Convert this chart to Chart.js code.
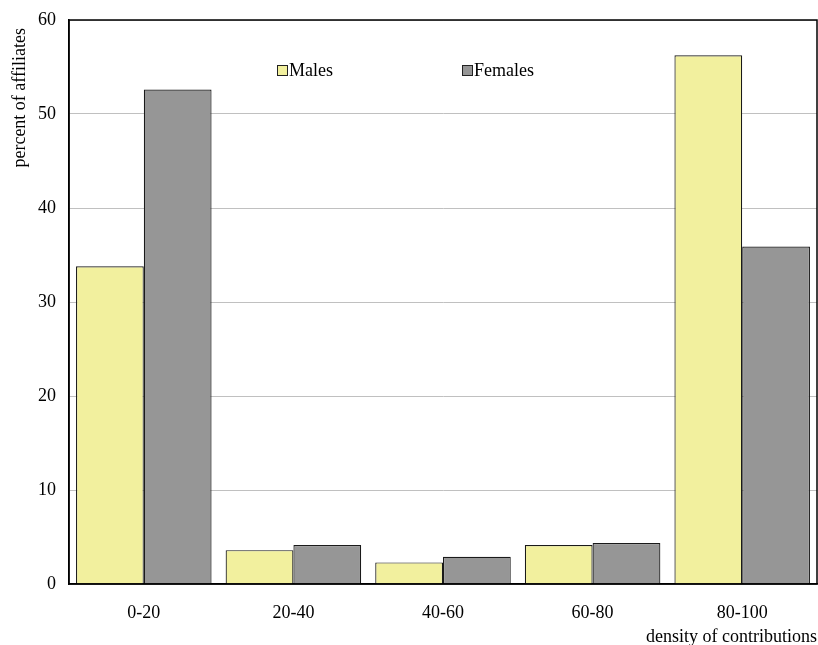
<!DOCTYPE html>
<html>
<head>
<meta charset="utf-8">
<script src="https://cdn.jsdelivr.net/npm/chart.js@4"></script>
<style>
  html, body { margin: 0; padding: 0; background: #fff; }
  #wrap { width: 818px; height: 645px; }
</style>
</head>
<body>
<div id="wrap"><canvas id="chart"></canvas></div>
<script>
// data
const categories = ['0-20', '20-40', '40-60', '60-80', '80-100'];
const males = [33.8, 3.6, 2.3, 4.15, 56.25];
const females = [52.6, 4.15, 2.9, 4.35, 35.9];
const yTicks = [0, 10, 20, 30, 40, 50, 60];
const yTitle = 'percent of affiliates';

const FONT = { family: "'Liberation Serif', 'Times New Roman', serif", size: 18 };

// box around the plot area
const frame = {
    id: 'frame',
    afterDraw(chart) {
        const { ctx, chartArea: a } = chart;
        ctx.save();
        ctx.strokeStyle = '#000';
        ctx.lineWidth = 1.5;
        ctx.strokeRect(a.left, a.top, a.right - a.left, a.bottom - a.top);
        ctx.restore();
    }
};

// y title sits a little below the top of the plot, so drawn by hand
const sideTitle = {
    id: 'sideTitle',
    afterDraw(chart) {
        const { ctx, chartArea: a } = chart;
        ctx.save();
        ctx.font = FONT.size + 'px ' + FONT.family;
        ctx.fillStyle = '#000';
        ctx.translate(20, a.top + 8);
        ctx.rotate(-Math.PI / 2);
        ctx.textAlign = 'right';
        ctx.textBaseline = 'middle';
        ctx.fillText(yTitle, 0, 0);
        ctx.restore();
    }
};

// legend sits inside the plot, two items side by side
const insideLegend = {
    id: 'insideLegend',
    afterDraw(chart) {
        const { ctx } = chart;
        const spots = [277, 462];
        ctx.save();
        ctx.font = FONT.size + 'px ' + FONT.family;
        ctx.textBaseline = 'middle';
        chart.data.datasets.forEach((ds, i) => {
            const x = spots[i], y = 70;
            ctx.fillStyle = ds.backgroundColor;
            ctx.fillRect(x, y - 5, 10, 10);
            ctx.strokeStyle = '#222';
            ctx.lineWidth = 1;
            ctx.strokeRect(x + 0.5, y - 4.5, 10, 10);
            ctx.fillStyle = '#000';
            ctx.fillText(ds.label, x + 12, y + 1);
        });
        ctx.restore();
    }
};

new Chart(document.getElementById('chart'), {
    type: 'bar',
    data: {
        labels: categories,
        datasets: [
            { label: 'Males', data: males, backgroundColor: '#f2f09e', borderColor: '#1a1a1a', borderWidth: 1.2 },
            { label: 'Females', data: females, backgroundColor: '#969696', borderColor: '#1a1a1a', borderWidth: 1.2 }
        ]
    },
    options: {
        responsive: true,
        maintainAspectRatio: false,
        animation: false,
        layout: { padding: { top: 20, right: 1, left: 0, bottom: 0 } },
        datasets: { bar: { categoryPercentage: 0.906, barPercentage: 1 } },
        plugins: {
            legend: { display: false },
            tooltip: { enabled: false }
        },
        scales: {
            x: {
                grid: { display: false, drawTicks: false },
                border: { display: true, color: '#000', width: 1.5 },
                ticks: { color: '#000', font: FONT, padding: 18 },
                title: {
                    display: true, text: 'density of contributions', align: 'end',
                    color: '#000', font: FONT, padding: { top: 0, bottom: -3 }
                },
                afterFit: (s) => { s.height = 61; }
            },
            y: {
                min: 0, max: 60,
                afterBuildTicks: (s) => { s.ticks = yTicks.map(v => ({ value: v })); },
                grid: { color: '#c0c0c0', drawTicks: false },
                border: { display: true, color: '#000', width: 1.5 },
                ticks: { color: '#000', font: FONT, padding: 13 },
                afterFit: (s) => { s.width = 69; s.paddingTop = 4; s.paddingBottom = 4; }
            }
        }
    },
    plugins: [frame, sideTitle, insideLegend]
});
</script>
</body>
</html>
